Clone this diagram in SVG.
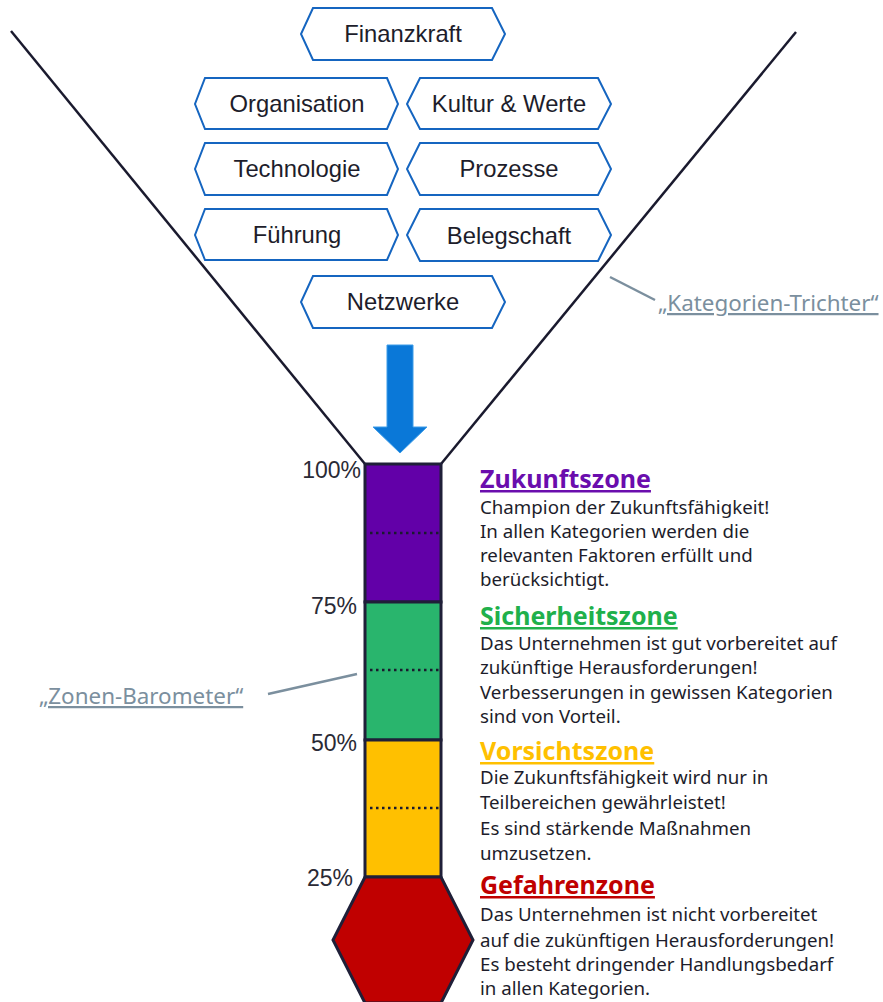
<svg xmlns="http://www.w3.org/2000/svg" width="883" height="1002" viewBox="0 0 883 1002">
<style>
.hex{fill:#fff;stroke:#1565c0;stroke-width:2}
.nt{font-family:"Liberation Sans",Arial,sans-serif;font-size:23.8px;fill:#1d1d2b;text-anchor:middle}
.pct{font-family:"Liberation Sans",Arial,sans-serif;font-size:23px;fill:#2a2a35;text-anchor:end}
.h{font-family:"Noto Sans","Open Sans",sans-serif;font-size:25px;font-weight:bold;text-decoration:underline}
.b{font-family:"Noto Sans","Open Sans",sans-serif;font-size:18.7px;fill:#1d1d2b}
.lbl{font-family:"Noto Sans","Open Sans",sans-serif;font-size:22.4px;fill:#7b8f9e;text-decoration:underline}
.funnel{stroke:#1a1a2e;stroke-width:2.5;fill:none}
.lead{stroke:#7b8f9e;stroke-width:2.5;fill:none}
.bar{stroke:#1f1f38;stroke-width:3}
.dot{stroke:#1a1a2e;stroke-width:2.5;stroke-dasharray:2.5 3.5}
</style>
<rect width="883" height="1002" fill="#fff"/>
<g id="connectors">
<line class="funnel" x1="11" y1="31" x2="365" y2="464"/>
<line class="funnel" x1="796" y1="32" x2="441" y2="464"/>
<line class="lead" x1="610" y1="277" x2="655" y2="300"/>
<line class="lead" x1="268" y1="694" x2="357" y2="674"/>
<path d="M387,345 H413 V427 H427 L400,453 L373,427 H387 Z" fill="#0a78d8" stroke="#3d9ce8" stroke-width="1"/>
</g>
<g id="n-finanzkraft"><polygon class="hex" points="313,8 492,8 505,34 492,60 313,60 301,34"/><text class="nt" x="403" y="42">Finanzkraft</text></g>
<g id="n-organisation"><polygon class="hex" points="205,78 387,78 398,104 387,129 205,129 195,104"/><text class="nt" x="297" y="112">Organisation</text></g>
<g id="n-kultur"><polygon class="hex" points="420,78 598,78 611,104 598,129 420,129 407,104"/><text class="nt" x="509" y="112">Kultur &amp; Werte</text></g>
<g id="n-technologie"><polygon class="hex" points="205,143 387,143 398,169 387,195 205,195 195,169"/><text class="nt" x="297" y="177">Technologie</text></g>
<g id="n-prozesse"><polygon class="hex" points="420,143 598,143 611,169 598,195 420,195 407,169"/><text class="nt" x="509" y="177">Prozesse</text></g>
<g id="n-fuehrung"><polygon class="hex" points="205,209 387,209 398,235 387,260 205,260 195,235"/><text class="nt" x="297" y="243">Führung</text></g>
<g id="n-belegschaft"><polygon class="hex" points="420,209 598,209 611,235 598,261 420,261 407,235"/><text class="nt" x="509" y="244">Belegschaft</text></g>
<g id="n-netzwerke"><polygon class="hex" points="313,276 492,276 505,302 492,328 313,328 301,302"/><text class="nt" x="403" y="310">Netzwerke</text></g>
<g id="barometer">
<rect class="bar" x="365" y="464" width="76" height="138" fill="#6200a8"/>
<rect class="bar" x="365" y="602" width="76" height="138" fill="#29b56d"/>
<rect class="bar" x="365" y="740" width="76" height="137" fill="#ffc000"/>
<polygon class="bar" points="365,877 441,877 473,940 441,1003 365,1003 333,940" fill="#c00000"/>
<line class="dot" x1="370" y1="533" x2="439" y2="533"/>
<line class="dot" x1="370" y1="670" x2="439" y2="670"/>
<line class="dot" x1="370" y1="808" x2="439" y2="808"/>
<text class="pct" x="361" y="478">100%</text>
<text class="pct" x="357" y="614">75%</text>
<text class="pct" x="357" y="751">50%</text>
<text class="pct" x="353" y="886">25%</text>
</g>
<g id="zukunftszone">
<text class="h" x="480" y="488" fill="#6a0dad">Zukunftszone</text>
<text class="b" x="480" y="514">Champion der Zukunftsfähigkeit!</text>
<text class="b" x="480" y="538">In allen Kategorien werden die</text>
<text class="b" x="480" y="562">relevanten Faktoren erfüllt und</text>
<text class="b" x="480" y="586">berücksichtigt.</text>
</g>
<g id="sicherheitszone">
<text class="h" x="480" y="625" fill="#20b04b">Sicherheitszone</text>
<text class="b" x="480" y="650">Das Unternehmen ist gut vorbereitet auf</text>
<text class="b" x="480" y="674">zukünftige Herausforderungen!</text>
<text class="b" x="480" y="699">Verbesserungen in gewissen Kategorien</text>
<text class="b" x="480" y="723">sind von Vorteil.</text>
</g>
<g id="vorsichtszone">
<text class="h" x="480" y="760" fill="#ffc000">Vorsichtszone</text>
<text class="b" x="480" y="784">Die Zukunftsfähigkeit wird nur in</text>
<text class="b" x="480" y="809">Teilbereichen gewährleistet!</text>
<text class="b" x="480" y="835">Es sind stärkende Maßnahmen</text>
<text class="b" x="480" y="860">umzusetzen.</text>
</g>
<g id="gefahrenzone">
<text class="h" x="480" y="894" fill="#c00000">Gefahrenzone</text>
<text class="b" x="480" y="921">Das Unternehmen ist nicht vorbereitet</text>
<text class="b" x="480" y="947">auf die zukünftigen Herausforderungen!</text>
<text class="b" x="480" y="971">Es besteht dringender Handlungsbedarf</text>
<text class="b" x="480" y="995">in allen Kategorien.</text>
</g>
<g id="labels">
<text class="lbl" x="658" y="311">„Kategorien-Trichter“</text>
<text class="lbl" x="39" y="704">„Zonen-Barometer“</text>
</g>
</svg>
